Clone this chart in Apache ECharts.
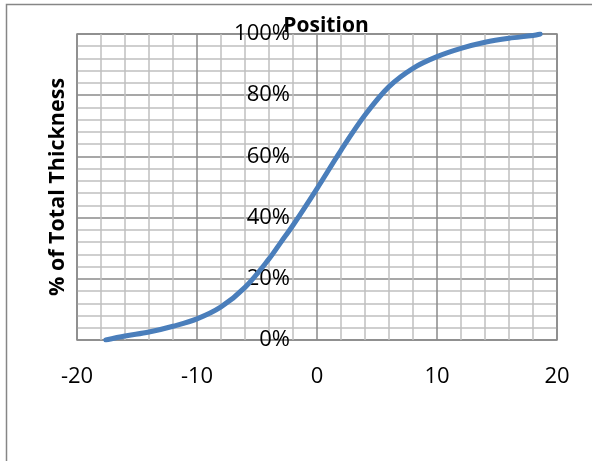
<!DOCTYPE html>
<html>
<head>
<meta charset="utf-8">
<script src="https://cdn.jsdelivr.net/npm/echarts@6/dist/echarts.min.js"></script>
<style>
html,body{margin:0;padding:0;background:#fff;}
#chart{width:592px;height:461px;}
</style>
</head>
<body>
<div id="chart"></div>
<script>
var positions = [-17.6, -16, -14, -12, -10, -8, -6, -4, -3, -2, 0, 2, 4, 6, 8, 10, 12, 14, 16, 18, 18.6];
var thickness = [0, 1.3, 2.6, 4.5, 6.9, 10.8, 17.2, 26.5, 32.0, 37.5, 49.5, 62, 73.5, 82.8, 88.8, 92.6, 95.3, 97.3, 98.6, 99.5, 100];
var xTicks = [-20, -10, 0, 10, 20];
var yTicks = [0, 20, 40, 60, 80, 100];
var titleText = 'Position';
var yTitle = '% of Total Thickness';

var data = positions.map(function (x, i) { return [x, thickness[i]]; });
var font = '"Open Sans", "Liberation Sans", sans-serif';

var chart = echarts.init(document.getElementById('chart'), null, {renderer: 'canvas'});
chart.setOption({
  animation: false,
  backgroundColor: '#fff',
  title: {
    text: titleText,
    left: 321,
    top: 11,
    textAlign: 'center',
    textStyle: {fontFamily: font, fontWeight: 'bold', fontSize: 21, color: '#000'}
  },
  graphic: [
    {
      type: 'rect',
      shape: {x: 6.5, y: 4.5, width: 700, height: 600},
      style: {fill: 'none', stroke: '#868686', lineWidth: 1.5},
      z: -1
    },
    {
      type: 'text',
      x: 58, y: 187,
      rotation: Math.PI / 2,
      style: {
        text: yTitle,
        fontFamily: font, fontWeight: 'bold', fontSize: 21.5, fill: '#000',
        align: 'center', verticalAlign: 'middle'
      }
    }
  ],
  grid: {
    left: 77, right: 35, top: 34, bottom: 121,
    show: true, borderColor: '#888', borderWidth: 1.5, backgroundColor: 'transparent'
  },
  xAxis: {
    type: 'value',
    min: xTicks[0], max: xTicks[xTicks.length - 1], interval: 10,
    axisLine: {show: false, onZero: false},
    axisTick: {show: false},
    axisLabel: {margin: 26, fontFamily: font, fontSize: 22, color: '#000'},
    splitLine: {show: true, lineStyle: {color: '#8a8a8a', width: 1.5}},
    minorTick: {show: false, splitNumber: 5},
    minorSplitLine: {show: true, lineStyle: {color: '#c0c0c0', width: 1.5}}
  },
  yAxis: {
    type: 'value',
    min: yTicks[0], max: yTicks[yTicks.length - 1], interval: 20,
    offset: -240,
    axisLine: {show: false, onZero: false},
    axisTick: {show: false},
    axisLabel: {margin: 27, fontFamily: font, fontSize: 22, color: '#000',
      formatter: function (v) { return v + '%'; }},
    splitLine: {show: true, lineStyle: {color: '#8a8a8a', width: 1.5}},
    minorTick: {show: false, splitNumber: 5},
    minorSplitLine: {show: true, lineStyle: {color: '#c0c0c0', width: 1.5}}
  },
  series: [{
    type: 'line',
    data: data,
    smooth: 0.35,
    showSymbol: false,
    symbol: 'none',
    lineStyle: {color: '#4a7ebb', width: 5, cap: 'round', join: 'round'},
    z: 3
  }]
});
</script>
</body>
</html>
